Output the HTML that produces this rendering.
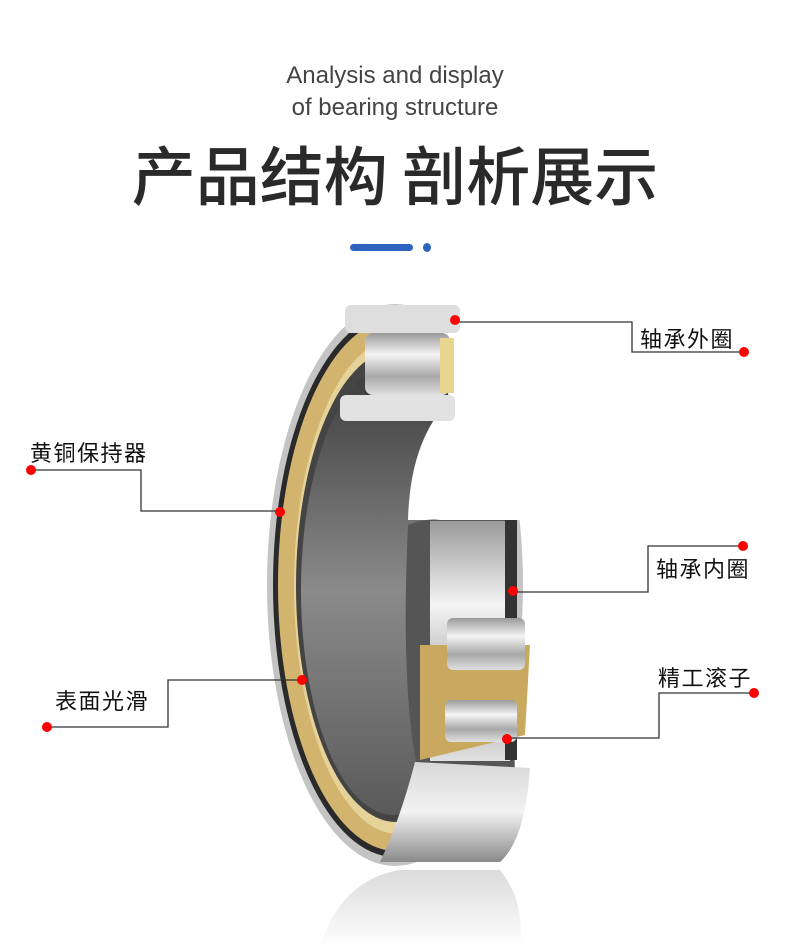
<!DOCTYPE html>
<html><head><meta charset="utf-8"><style>
html,body{margin:0;padding:0;background:#fff}
body{width:790px;height:948px;position:relative;overflow:hidden;font-family:"Liberation Sans","Noto Sans CJK SC",sans-serif}
.en{position:absolute;left:0;width:790px;text-align:center;color:#444;font-size:24px;line-height:32px}
.t{position:absolute;left:0;width:790px;top:130px;text-align:center;font-family:"Noto Sans CJK SC",sans-serif;font-weight:500;font-size:64px;color:#2a2a2a;line-height:86px;letter-spacing:0px}
.l{position:absolute;font-family:"Noto Sans CJK SC",sans-serif;font-size:22px;color:#111;letter-spacing:1.5px;line-height:24px}
</style></head><body>
<div class="en" style="top:60px">Analysis and display</div>
<div class="en" style="top:92px">of bearing structure</div>
<div class="t">产品结构 剖析展示</div>
<div style="position:absolute;left:350px;top:244px;width:63px;height:7px;border-radius:4px;background:#2f63c0"></div>
<div style="position:absolute;left:423px;top:243px;width:8px;height:9px;border-radius:50%;background:#2f63c0"></div>

<svg width="790" height="948" style="position:absolute;left:0;top:0">
<defs>
<linearGradient id="hole" x1="0" y1="0" x2="0" y2="1"><stop offset="0" stop-color="#3a3a3a"/><stop offset="0.5" stop-color="#8a8a8a"/><stop offset="1" stop-color="#5a5a5a"/></linearGradient>
<linearGradient id="roll" x1="0" y1="0" x2="0" y2="1"><stop offset="0" stop-color="#9a9a9a"/><stop offset="0.35" stop-color="#f4f4f4"/><stop offset="0.7" stop-color="#a8a8a8"/><stop offset="1" stop-color="#e0e0e0"/></linearGradient>
<linearGradient id="ring" x1="0" y1="0" x2="0" y2="1"><stop offset="0" stop-color="#d8d8d8"/><stop offset="0.5" stop-color="#f2f2f2"/><stop offset="1" stop-color="#8a8a8a"/></linearGradient>
<linearGradient id="refl" x1="0" y1="0" x2="0" y2="1"><stop offset="0" stop-color="#ccc"/><stop offset="1" stop-color="#fff"/></linearGradient>
</defs>
<path d="M320 948 Q340 880 400 870 L500 870 Q525 900 520 948 Z" fill="url(#refl)" opacity="0.7"/>
<ellipse cx="395" cy="585" rx="128" ry="281" fill="#c4c4c4"/>
<ellipse cx="395" cy="585" rx="122" ry="272" fill="#2a2a2a"/>
<ellipse cx="396" cy="585" rx="118" ry="266" fill="#d2b46e"/>
<ellipse cx="398" cy="586" rx="104" ry="248" fill="#e6d39a"/>
<ellipse cx="396" cy="586" rx="100" ry="236" fill="#444"/>
<ellipse cx="393" cy="590" rx="92" ry="225" fill="url(#hole)"/>
<path d="M420 300 L560 300 L560 520 L408 520 Q410 440 450 400 Z" fill="#fff"/>
<rect x="345" y="305" width="115" height="28" rx="6" fill="#dedede"/>
<rect x="340" y="395" width="115" height="26" rx="6" fill="#e2e2e2"/>
<rect x="365" y="333" width="85" height="62" rx="8" fill="url(#roll)"/>
<rect x="440" y="338" width="14" height="55" fill="#e8d590"/>
<path d="M408 525 Q425 518 440 520 L510 520 L515 780 L420 780 Q400 700 408 525 Z" fill="#555"/>
<rect x="430" y="521" width="80" height="240" fill="url(#roll)"/>
<rect x="505" y="520" width="12" height="240" fill="#333"/>
<path d="M420 645 L530 645 L525 735 L420 760 Z" fill="#c9a95f"/>
<rect x="447" y="618" width="78" height="52" rx="6" fill="url(#roll)"/>
<rect x="445" y="700" width="72" height="42" rx="6" fill="url(#roll)"/>
<path d="M415 762 L530 768 Q525 840 500 862 L380 862 Q400 820 415 762 Z" fill="url(#ring)"/>
<g fill="none" stroke="#333" stroke-width="1.3">
<polyline points="455,322 632,322 632,352 744,352"/>
<polyline points="743,546 648,546 648,592 513,592"/>
<polyline points="754,693 659,693 659,738 507,738"/>
<polyline points="31,470 141,470 141,511 280,511"/>
<polyline points="47,727 168,727 168,680 300,680"/>
</g>
<g fill="#f00">
<circle cx="455" cy="320" r="5"/><circle cx="744" cy="352" r="5"/>
<circle cx="743" cy="546" r="5"/><circle cx="513" cy="591" r="5"/>
<circle cx="754" cy="693" r="5"/><circle cx="507" cy="739" r="5"/>
<circle cx="31" cy="470" r="5"/><circle cx="280" cy="512" r="5"/>
<circle cx="47" cy="727" r="5"/><circle cx="302" cy="680" r="5"/>
</g>
</svg>
<div class="l" style="left:640px;top:326px">轴承外圈</div>
<div class="l" style="left:656px;top:556px">轴承内圈</div>
<div class="l" style="left:658px;top:665px">精工滚子</div>
<div class="l" style="left:30px;top:440px">黄铜保持器</div>
<div class="l" style="left:55px;top:688px">表面光滑</div>
</body></html>
